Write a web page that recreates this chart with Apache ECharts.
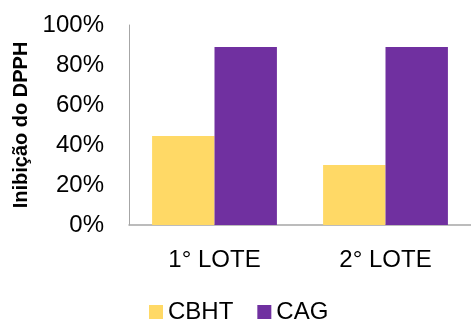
<!DOCTYPE html>
<html>
<head>
<meta charset="utf-8">
<script src="https://cdn.jsdelivr.net/npm/echarts@6/dist/echarts.min.js"></script>
<style>
  html, body { margin: 0; padding: 0; background: #fff; }
  #chart { width: 471px; height: 320px; }
</style>
</head>
<body>
<div id="chart"></div>
<script>
// Batches (lotes) on the category axis
const categories = ['1° LOTE', '2° LOTE'];
// DPPH inhibition, in percent
const cbhtValues = [44.5, 30];
const cagValues = [89, 89];
// Value axis
const yMin = 0;
const yMax = 100;
const yStep = 20;

const FONT = '"Liberation Sans", Arial, sans-serif';

const chart = echarts.init(document.getElementById('chart'), null, { renderer: 'canvas' });
chart.setOption({
  animation: false,
  textStyle: { fontFamily: FONT },
  // plot area runs slightly past the right edge of the canvas
  grid: { left: 129, right: -3, top: 25, bottom: 95, containLabel: false },
  legend: {
    data: ['CBHT', 'CAG'],
    top: 300,
    left: 149,
    padding: 0,
    icon: 'rect',
    itemWidth: 14,
    itemHeight: 14,
    itemGap: 24,
    textStyle: { fontFamily: FONT, fontSize: 24, color: '#000' }
  },
  xAxis: {
    type: 'category',
    data: categories,
    axisLine: { lineStyle: { color: '#A6A6A6', width: 1.5 } },
    axisTick: { show: false },
    axisLabel: { fontFamily: FONT, fontSize: 24, color: '#000', margin: 23 }
  },
  yAxis: {
    type: 'value',
    min: yMin,
    max: yMax,
    interval: yStep,
    name: 'Inibição do DPPH',
    nameLocation: 'middle',
    nameGap: 93,
    nameTextStyle: { fontFamily: FONT, fontSize: 20, fontWeight: 'bold', color: '#000' },
    axisLine: { show: true, lineStyle: { color: '#A6A6A6', width: 1 } },
    axisTick: { show: false },
    splitLine: { show: false },
    axisLabel: {
      fontFamily: FONT, fontSize: 24, color: '#000', margin: 25,
      padding: [3, 0, 0, 0],
      formatter: v => v + '%'
    }
  },
  series: [
    {
      name: 'CBHT', type: 'bar', data: cbhtValues,
      itemStyle: { color: '#FFD966' },
      barGap: '0%', barCategoryGap: '27%'
    },
    {
      name: 'CAG', type: 'bar', data: cagValues,
      itemStyle: { color: '#7030A0' },
      barGap: '0%', barCategoryGap: '27%'
    }
  ]
});
</script>
</body>
</html>
